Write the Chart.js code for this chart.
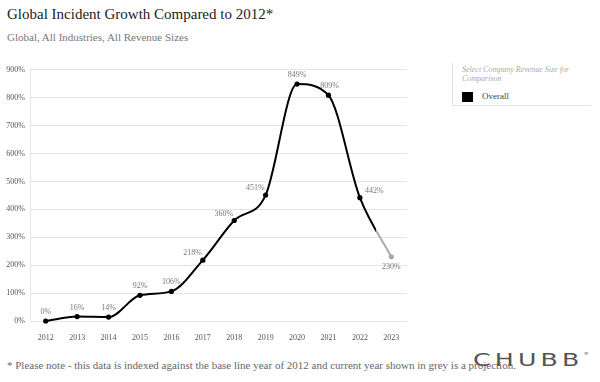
<!DOCTYPE html>
<html>
<head>
<meta charset="utf-8">
<script src="https://cdn.jsdelivr.net/npm/chart.js@4"></script>
<style>
  html, body { margin: 0; padding: 0; background: #fff; }
  body { width: 600px; height: 382px; position: relative; overflow: hidden; font-family: "Liberation Serif", serif; }
  #title { position: absolute; left: 7px; top: 6px; font-size: 15px; color: #222; }
  #subtitle { position: absolute; left: 7px; top: 31px; font-size: 11px; color: #777; }
  #wrap { position: absolute; left: 0; top: 60px; width: 415px; height: 282px; }
  #panel { position: absolute; left: 452px; top: 63px; width: 138px; height: 42px; border-left: 1px solid #ddd; border-bottom: 1px solid #e4e4e4; }
  #panel .hint { position: absolute; left: 9px; top: 2px; font-size: 8px; font-style: italic; color: #aaa; line-height: 9px; width: 125px; }
  #panel .sw { position: absolute; left: 9px; top: 29px; width: 11px; height: 10px; background: #000; }
  #panel .lab { position: absolute; left: 29px; top: 28px; font-size: 9px; color: #444; }
  #note { position: absolute; left: 7px; top: 359px; font-size: 11px; color: #666; white-space: nowrap; }
  #logo { position: absolute; left: 473px; top: 349px; font-family: "DejaVu Sans", sans-serif; font-size: 18px; letter-spacing: 3px; color: #555; transform: scaleX(1.4); transform-origin: left; white-space: nowrap; }
  #logo sup { font-size: 4px; letter-spacing: 0; vertical-align: 11px; }
</style>
</head>
<body>
<div id="title">Global Incident Growth Compared to 2012*</div>
<div id="subtitle">Global, All Industries, All Revenue Sizes</div>
<div id="wrap"><canvas id="myChart"></canvas></div>
<div id="panel">
  <div class="hint">Select Company Revenue Size for Comparison</div>
  <div class="sw"></div>
  <div class="lab">Overall</div>
</div>
<div id="note">* Please note - this data is indexed against the base line year of 2012 and current year shown in grey is a projection.</div>
<div id="logo">CHUBB<sup>®</sup></div>
<script>
const years = ['2012', '2013', '2014', '2015', '2016', '2017', '2018', '2019', '2020', '2021', '2022', '2023'];
const growth = [0, 16, 14, 92, 106, 218, 360, 451, 849, 809, 442, 230];
const yTicks = [0, 100, 200, 300, 400, 500, 600, 700, 800, 900];
const projectionIndex = 11;

const BLACK = '#000';
const GREY = '#aaa';

// black line that turns grey halfway into the projected year
function lineColor(context) {
  const chart = context.chart;
  const area = chart.chartArea;
  if (!area) return BLACK;
  const x = chart.scales.x;
  const mid = (x.getPixelForValue(projectionIndex - 1) + x.getPixelForValue(projectionIndex)) / 2;
  const g = chart.ctx.createLinearGradient(area.left, 0, area.right, 0);
  const t = (mid - area.left) / (area.right - area.left);
  g.addColorStop(0, BLACK);
  g.addColorStop(t, BLACK);
  g.addColorStop(Math.min(1, t + 0.001), GREY);
  g.addColorStop(1, GREY);
  return g;
}

const valueLabels = {
  id: 'valueLabels',
  afterDatasetsDraw(chart) {
    const ctx = chart.ctx;
    const meta = chart.getDatasetMeta(0);
    ctx.save();
    ctx.font = '8px "Liberation Serif", serif';
    ctx.fillStyle = '#777';
    ctx.textBaseline = 'alphabetic';
    meta.data.forEach((pt, i) => {
      let x = pt.x, y = pt.y - 7, align = 'center';
      if (i >= 5 && i <= 7) { x = pt.x - 1; y = pt.y - 5; align = 'right'; }
      if (i === 9) { x = pt.x + 1; }
      if (i === 10) { x = pt.x + 5; y = pt.y - 5; align = 'left'; }
      if (i === projectionIndex) { y = pt.y + 12; }
      ctx.textAlign = align;
      ctx.fillText(growth[i] + '%', x, y);
    });
    ctx.restore();
  }
};

const ctx = document.getElementById('myChart').getContext('2d');
const myChart = new Chart(ctx, {
  type: 'line',
  data: {
    labels: years,
    datasets: [
      {
        label: 'Overall',
        data: growth,
        borderColor: lineColor,
        borderWidth: 2,
        cubicInterpolationMode: 'monotone',
        pointRadius: 2.6,
        pointBorderWidth: 0,
        pointBackgroundColor: growth.map((v, i) => i === projectionIndex ? GREY : BLACK),
        clip: false,
      },
    ],
  },
  options: {
    responsive: true,
    maintainAspectRatio: false,
    animation: false,
    layout: { padding: { top: 7, right: 8, left: 0, bottom: 0 } },
    plugins: {
      legend: { display: false },
      tooltip: { enabled: false },
    },
    scales: {
      x: {
        offset: true,
        grid: { display: false },
        border: { display: false },
        ticks: {
          color: '#555',
          font: { family: '"Liberation Serif", serif', size: 8 },
          padding: 4,
          maxRotation: 0,
        },
        afterFit(axis) { axis.height = 21; },
      },
      y: {
        min: 0,
        max: 900,
        afterBuildTicks(axis) { axis.ticks = yTicks.map(v => ({ value: v })); },
        grid: { color: '#dfe5e8', lineWidth: 1, drawTicks: false },
        border: { color: '#dfe5e8' },
        ticks: {
          color: '#555',
          font: { family: '"Liberation Serif", serif', size: 8 },
          padding: 5,
          callback: v => v + '%',
        },
        afterFit(axis) { axis.width = 30; },
      },
    },
  },
  plugins: [valueLabels],
});
</script>
</body>
</html>
